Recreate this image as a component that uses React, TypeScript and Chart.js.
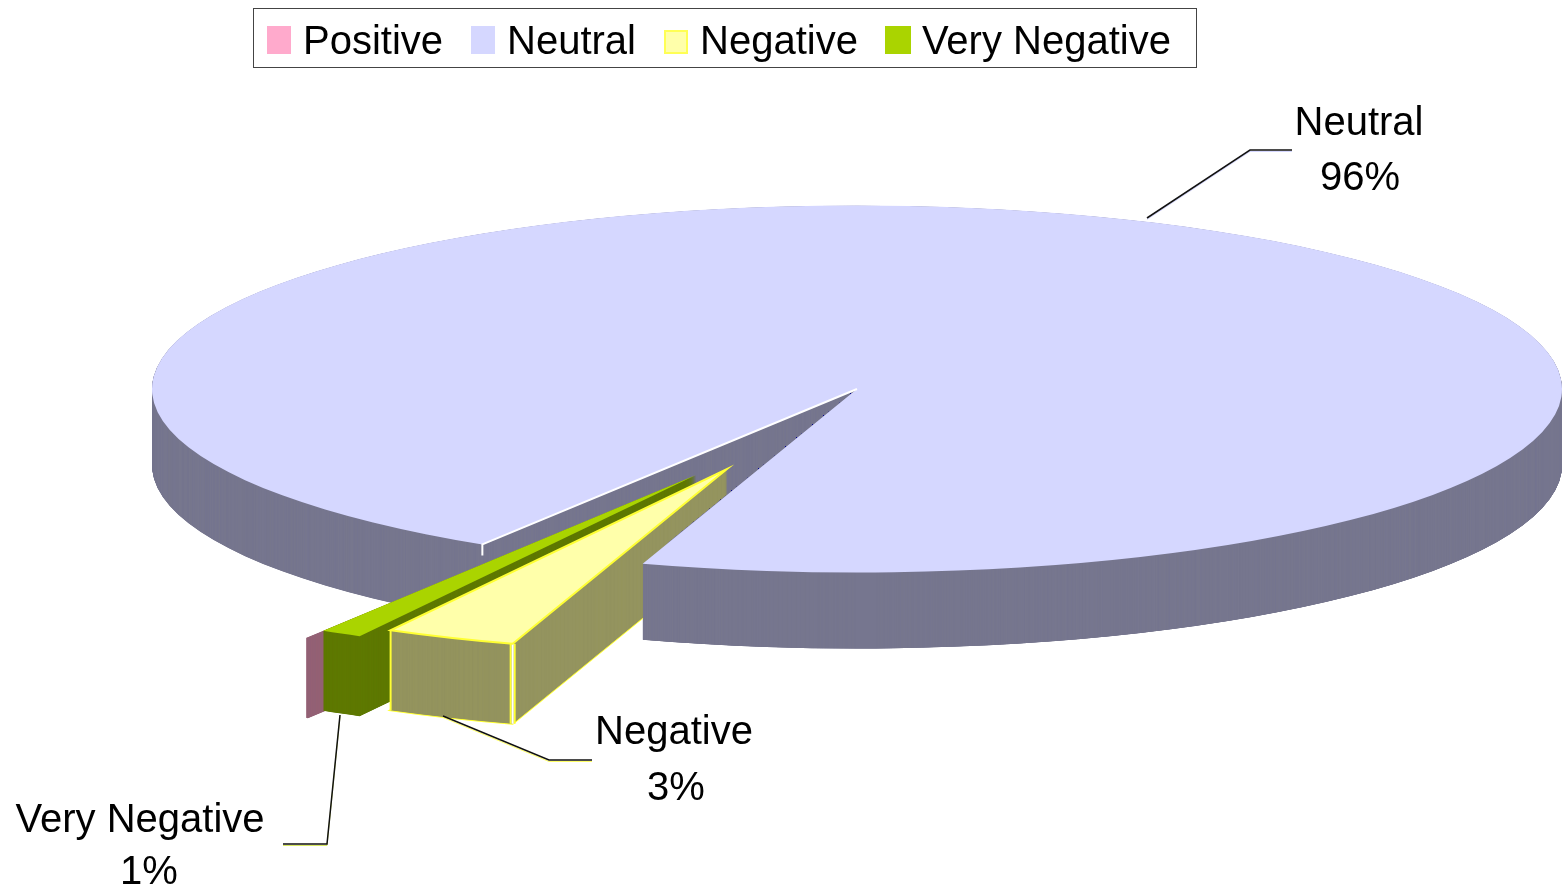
import React, { useEffect, useRef } from "react";
import { Chart, registerables } from "chart.js";

Chart.register(...registerables);

// ---- data ----
const categories = ["Positive", "Neutral", "Negative", "Very Negative"];
const shares = [0.05, 96, 3, 0.95];
const labelledCategories = ["Neutral", "Negative", "Very Negative"];
const labelledPercents = [96, 3, 1];

// ---- colours ----
const topColors = ["#FFAACC", "#D5D7FF", "#FFFFAA", "#AAD400"];
const wallColors = ["#946276", "#77778F", "#94945F", "#5F7900"];
const swatchSizes = [[24, 28], [24, 28], [24, 24], [26, 28]];

// ---- layout of the flattened, extruded pie ----
const FONT = "'Liberation Sans', Arial, sans-serif";
const PIE_X = 857;
const PIE_Y = 389;
const RX = 705;
const RY = 183.5;
const BODY_DEPTH = 76;
const SLICE_DEPTH = 80;
const ROTATION = 211.92;
// pulled-out position of each slice's tip (null: stays in the pie)
const tips: ({ x: number; y: number } | null)[] = [
  { x: 680.6, y: 482.4 },
  null,
  { x: 727, y: 469 },
  { x: 696, y: 475 },
];
const LEGEND_BOX = { x: 253.5, y: 8.5, w: 943, h: 59 };
const textSpots = [
  { name: [1359, 135], pct: [1360, 190] },
  { name: [674, 744], pct: [676, 800] },
  { name: [140, 832], pct: [149, 884] },
];
const leaders = [
  { pts: [[1147, 218], [1250, 150], [1292, 150]], tint: "#D5D7FF" },
  { pts: [[443, 716], [549, 760], [592, 760]], tint: "#FFFF66" },
  { pts: [[340, 715], [327, 844], [283, 844]], tint: "#D8E860" },
];

function paintArc(ctx: any, arc: any, x: number, y: number, fill: string) {
  const r = arc.outerRadius;
  ctx.save();
  ctx.translate(x, y);
  ctx.scale(RX / r, RY / r);
  ctx.translate(-arc.x, -arc.y);
  const saved = arc.options;
  arc.options = { ...saved, backgroundColor: fill, borderWidth: 0 };
  arc.draw(ctx);
  arc.options = saved;
  ctx.restore();
}

function extrude(ctx: any, arc: any, x: number, y: number, depth: number, fill: string) {
  for (let d = depth; d > 0; d -= 0.25) paintArc(ctx, arc, x, y + d, fill);
}

const rim = (x: number, y: number, a: number) => ({
  x: x + RX * Math.cos(a),
  y: y + RY * Math.sin(a),
});

const piePlugin = {
  id: "flatPie",
  afterLayout(chart: any) {
    const legend = chart.legend;
    legend.left = 239;
    legend.top = -13;
  },
  beforeDatasetsDraw(chart: any) {
    const ctx = chart.ctx;
    const arcs = chart.getDatasetMeta(0).data;
    const [pos, neu, neg, vn] = arcs;
    const tipOf = (i: number) => tips[i] as { x: number; y: number };

    // whole neutral body, including the cut wall seen through the gap
    extrude(ctx, neu, PIE_X, PIE_Y, BODY_DEPTH, wallColors[1]);

    // bodies of the pulled-out slices
    const negTip = tipOf(2);
    const negA = rim(negTip.x, negTip.y, neg.startAngle);
    const negB = rim(negTip.x, negTip.y, neg.endAngle);
    extrude(ctx, pos, tipOf(0).x, tipOf(0).y, SLICE_DEPTH, wallColors[0]);
    extrude(ctx, vn, tipOf(3).x, tipOf(3).y, SLICE_DEPTH, wallColors[3]);

    ctx.save();
    ctx.strokeStyle = "#FFFF33";
    ctx.lineWidth = 2;
    ctx.beginPath();
    ctx.moveTo(negTip.x, negTip.y + SLICE_DEPTH);
    ctx.ellipse(negTip.x, negTip.y + SLICE_DEPTH, RX, RY, 0, neg.startAngle, neg.endAngle);
    ctx.closePath();
    ctx.stroke();
    ctx.restore();
    extrude(ctx, neg, negTip.x, negTip.y, SLICE_DEPTH, wallColors[2]);

    ctx.save();
    ctx.lineWidth = 2;
    ctx.strokeStyle = "#FFFF33";
    ctx.beginPath();
    ctx.moveTo(negB.x, negB.y);
    ctx.lineTo(negB.x, negB.y + SLICE_DEPTH);
    ctx.moveTo(negA.x - 2, negA.y);
    ctx.lineTo(negA.x - 2, negA.y + SLICE_DEPTH);
    ctx.moveTo(negA.x + 2, negA.y);
    ctx.lineTo(negA.x + 2, negA.y + SLICE_DEPTH);
    ctx.stroke();
    ctx.strokeStyle = "#FFFFFF";
    ctx.beginPath();
    ctx.moveTo(negA.x, negA.y);
    ctx.lineTo(negA.x, negA.y + SLICE_DEPTH);
    ctx.stroke();
    ctx.restore();

    // near side of the neutral body sits in front of those bodies
    const cutNear = rim(PIE_X, PIE_Y, neu.endAngle);
    ctx.save();
    ctx.beginPath();
    ctx.moveTo(PIE_X, PIE_Y);
    ctx.lineTo(cutNear.x, cutNear.y);
    ctx.lineTo(cutNear.x, 890);
    ctx.lineTo(1562, 890);
    ctx.lineTo(1562, PIE_Y);
    ctx.closePath();
    ctx.clip();
    extrude(ctx, neu, PIE_X, PIE_Y, BODY_DEPTH, wallColors[1]);
    ctx.restore();

    // tops (the Positive slice is so thin that only its wall shows)
    paintArc(ctx, neu, PIE_X, PIE_Y, topColors[1]);

    const cutFar = rim(PIE_X, PIE_Y, neu.startAngle);
    ctx.save();
    ctx.strokeStyle = "#FFFFFF";
    ctx.lineWidth = 2;
    ctx.beginPath();
    ctx.moveTo(PIE_X, PIE_Y);
    ctx.lineTo(cutFar.x, cutFar.y);
    ctx.lineTo(cutFar.x, cutFar.y + 11);
    ctx.stroke();
    ctx.restore();

    paintArc(ctx, vn, tipOf(3).x, tipOf(3).y, topColors[3]);
    paintArc(ctx, neg, negTip.x, negTip.y, topColors[2]);

    ctx.save();
    ctx.strokeStyle = "#FFFF33";
    ctx.lineWidth = 2;
    ctx.lineJoin = "miter";
    ctx.beginPath();
    ctx.moveTo(negTip.x, negTip.y);
    ctx.ellipse(negTip.x, negTip.y, RX, RY, 0, neg.startAngle, neg.endAngle);
    ctx.closePath();
    ctx.stroke();
    ctx.restore();

    return false;
  },
  afterDraw(chart: any) {
    const ctx = chart.ctx;
    ctx.save();
    // legend frame
    ctx.strokeStyle = "#444444";
    ctx.lineWidth = 1;
    ctx.strokeRect(LEGEND_BOX.x, LEGEND_BOX.y, LEGEND_BOX.w, LEGEND_BOX.h);

    // leader lines
    leaders.forEach(({ pts, tint }) => {
      const path = (dy: number) => {
        ctx.beginPath();
        pts.forEach(([x, y], i) =>
          i ? ctx.lineTo(x, y + dy) : ctx.moveTo(x, y + dy)
        );
        ctx.stroke();
      };
      ctx.lineWidth = 1;
      ctx.strokeStyle = tint;
      path(1.5);
      ctx.lineWidth = 1.5;
      ctx.strokeStyle = "#111111";
      path(0);
    });

    // data labels
    ctx.fillStyle = "#000000";
    ctx.font = `40px ${FONT}`;
    ctx.textAlign = "center";
    ctx.textBaseline = "alphabetic";
    labelledCategories.forEach((name, i) => {
      const s = textSpots[i];
      ctx.fillText(name, s.name[0], s.name[1]);
      ctx.fillText(`${labelledPercents[i]}%`, s.pct[0], s.pct[1]);
    });
    ctx.restore();
  },
};

function makeSwatch(i: number) {
  const [w, h] = swatchSizes[i];
  const c = document.createElement("canvas");
  c.width = w;
  c.height = h + 6;
  const g = c.getContext("2d") as CanvasRenderingContext2D;
  const top = i === 2 ? 2 : 0;
  g.fillStyle = topColors[i];
  g.fillRect(0, top, w, h);
  if (i === 2) {
    g.strokeStyle = "#FFFF55";
    g.lineWidth = 2;
    g.strokeRect(1, top + 1, w - 2, h - 2);
  }
  return c;
}

export default function App() {
  const ref = useRef<HTMLCanvasElement | null>(null);

  useEffect(() => {
    const chart = new Chart(ref.current as HTMLCanvasElement, {
      type: "pie",
      data: {
        labels: categories,
        datasets: [
          {
            data: shares,
            backgroundColor: topColors,
            borderWidth: 0,
          },
        ],
      },
      options: {
        animation: false,
        responsive: false,
        devicePixelRatio: 1,
        events: [],
        rotation: ROTATION,
        plugins: {
          tooltip: { enabled: false },
          legend: {
            position: "top",
            align: "start",
            labels: {
              color: "#000000",
              font: { family: FONT, size: 40 },
              padding: 36,
              usePointStyle: true,
              pointStyleWidth: 8,
              boxHeight: 28,
              generateLabels(c: any) {
                const base =
                  Chart.overrides.doughnut.plugins.legend.labels.generateLabels(c);
                return base.map((item: any, i: number) => ({
                  ...item,
                  pointStyle: makeSwatch(i),
                }));
              },
            },
          },
        },
      } as any,
      plugins: [piePlugin as any],
    });
    return () => chart.destroy();
  }, []);

  return (
    <canvas
      ref={ref}
      width={1562}
      height={890}
      style={{ position: "absolute", left: 0, top: 0, display: "block" }}
    />
  );
}
